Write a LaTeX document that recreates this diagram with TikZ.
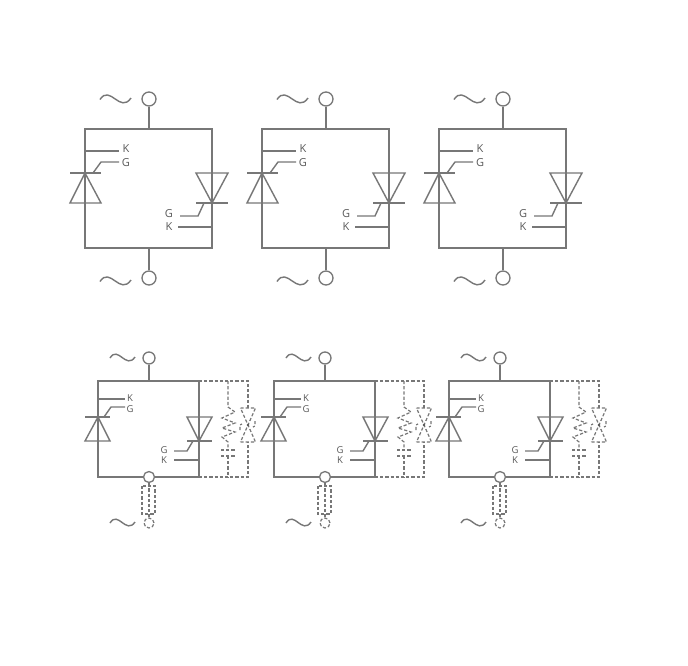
\documentclass[tikz,border=0pt]{standalone}
\usepackage{fontspec}
\setmainfont{Open Sans}
\definecolor{ink}{HTML}{777777}
\definecolor{txt}{HTML}{5A5A5A}
\tikzset{
  wire/.style={draw=ink,line width=1.4pt},
  dwire/.style={draw=ink,line width=1.2pt,dash pattern=on 3.2pt off 2pt},
  term/.style={circle,draw=ink,line width=1.3pt,fill=white,inner sep=0pt,minimum size=#1},
  dterm/.style={circle,dwire,inner sep=0pt,minimum size=#1},
  biglabel/.style={text=txt,inner sep=0pt,font=\fontsize{11}{11}\selectfont},
  smalllabel/.style={text=txt,inner sep=0pt,font=\fontsize{9.5}{9.5}\selectfont},
  pt/.style={x=1pt,y=-1pt}
}
\newcommand{\bigunit}[2]{%
\begin{scope}[shift={(#1,0)},name prefix=#2-]
  \coordinate (tl) at (85,129); \coordinate (tr) at (212,129);
  \coordinate (bl) at (85,248); \coordinate (br) at (212,248);
  \coordinate (tm) at (149,129); \coordinate (bm) at (149,248);
  \node[term=14pt] (top) at (149,99) {};
  \node[term=14pt] (bot) at (149,278) {};
  \draw[wire] (tl) -- (tr) -- (br) -- (bl) -- cycle;
  \draw[wire] (top) -- (tm);
  \draw[wire] (bot) -- (bm);
  \draw[wire] (100,99.5) .. controls (110,84) and (120,114) .. (131,98);
  \draw[wire] (100,281.5) .. controls (110,266) and (120,296) .. (131,280);
  % left thyristor
  \draw[wire] (85,173) -- (101,203) -- (70,203) -- cycle;
  \draw[wire] (70,173) -- (101,173);
  \node[biglabel] (k1) at (126,149) {K};
  \node[biglabel] (g1) at (126,162.5) {G};
  \coordinate (k1a) at (85,151);
  \draw[wire] (k1a) -- (119,151);
  \draw[wire] (93,173) -- (101,162) -- (119,162);
  % right thyristor
  \draw[wire] (212,203) -- (196,173) -- (228,173) -- cycle;
  \draw[wire] (196,203) -- (228,203);
  \node[biglabel] (g2) at (169,214) {G};
  \node[biglabel] (k2) at (169,227) {K};
  \coordinate (k2a) at (212,227);
  \draw[wire] (178,227) -- (k2a);
  \draw[wire] (204,203) -- (198,216) -- (180,216);
\end{scope}}
\newcommand{\smallunit}[2]{%
\begin{scope}[shift={(#1,0)},name prefix=#2-]
  \coordinate (tl) at (98,381); \coordinate (tr) at (199,381);
  \coordinate (bl) at (98,477); \coordinate (br) at (199,477);
  \coordinate (tm) at (149,381);
  \node[term=12pt] (top) at (149,358) {};
  \draw[wire] (tl) -- (tr) -- (br) -- (bl) -- cycle;
  \draw[wire] (top) -- (tm);
  \node[term=11pt] (bot) at (149,477) {};
  \node[dterm=10pt] (dbot) at (149,523) {};
  \draw[dwire] (bot) -- (dbot);
  \draw[dwire] (142,486) rectangle (155,514);
  \draw[wire] (110,358) .. controls (118,345) and (126,370) .. (135,357);
  \draw[wire] (110,523) .. controls (118,510) and (126,535) .. (135,522);
  % left thyristor
  \draw[wire] (98,417) -- (110,441) -- (85,441) -- cycle;
  \draw[wire] (85,417) -- (110,417);
  \node[smalllabel] (k1) at (130,398) {K};
  \node[smalllabel] (g1) at (130,409) {G};
  \draw[wire] (98,399) -- (125,399);
  \draw[wire] (104,417) -- (111,407) -- (125,407);
  % right thyristor
  \draw[wire] (199,441) -- (187,417) -- (212,417) -- cycle;
  \draw[wire] (187,441) -- (212,441);
  \node[smalllabel] (g2) at (164,450) {G};
  \node[smalllabel] (k2) at (164,460) {K};
  \draw[wire] (174,460) -- (199,460);
  \draw[wire] (193,441) -- (187,451) -- (174,451);
  % dashed protection branch
  \draw[dwire] (tr) -- (248,381) -- (248,408);
  \draw[dwire] (br) -- (248,477) -- (248,442);
  \draw[dwire] (228,381) -- (228,407) -- (235,412) -- (222,418) -- (235,423) -- (222,428) -- (235,432) -- (222,437) -- (228,442) -- (228,450);
  \draw[dwire] (228,456) -- (228,477);
  \draw[dwire] (221,450) -- (235,450);
  \draw[dwire] (221,456) -- (235,456);
  \draw[dwire] (240.5,408) -- (255.5,408) -- (248,425) -- cycle;
  \draw[dwire] (240.5,442) -- (255.5,442) -- (248,425) -- cycle;
  \fill[txt] (248,425) circle (1.3pt);
  \draw[dwire] (240,430) -- (240,425) -- (242,424);
  \draw[dwire] (255,421) -- (255,426) -- (253,427);
\end{scope}}
\begin{document}
\begin{tikzpicture}[pt]
  \useasboundingbox (0,0) rectangle (688,665);
  \fill[white] (0,0) rectangle (688,665);
  \bigunit{0}{a}
  \bigunit{177}{b}
  \bigunit{354}{c}
  \smallunit{0}{d}
  \smallunit{176}{e}
  \smallunit{351}{f}
\end{tikzpicture}
\end{document}
